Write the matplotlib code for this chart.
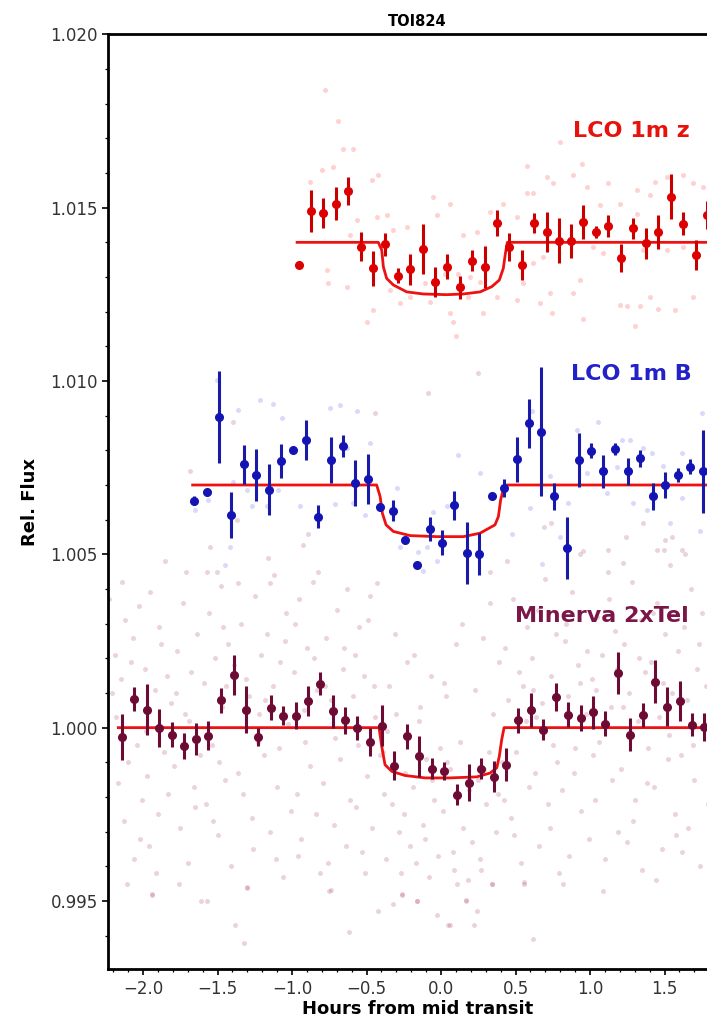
import matplotlib
matplotlib.use('Agg')
from matplotlib import pyplot as plt
from matplotlib.patches import Rectangle
from matplotlib.ticker import MultipleLocator, FormatStrFormatter

# ---- binned data (hours from mid transit, relative flux, error) ----
z_t = [-0.953, -0.872, -0.79, -0.705, -0.622, -0.537, -0.454, -0.374, -0.289, -0.206,
       -0.123, -0.04, 0.042, 0.128, 0.21, 0.293, 0.374, 0.459, 0.544, 0.626,
       0.709, 0.792, 0.872, 0.955, 1.04, 1.123, 1.206, 1.29, 1.374, 1.456,
       1.542, 1.626, 1.709, 1.783]
z_f = [1.01336, 1.0149, 1.01485, 1.01512, 1.01548, 1.01387, 1.01325, 1.01395, 1.01304, 1.01322,
       1.01382, 1.01286, 1.01329, 1.0127, 1.01347, 1.01328, 1.01456, 1.01387, 1.01334, 1.01456,
       1.0143, 1.01404, 1.01404, 1.01459, 1.0143, 1.01447, 1.01354, 1.0144, 1.01397, 1.0143,
       1.01531, 1.01454, 1.01363, 1.01478]
z_e = [0.0001, 0.0006, 0.00044, 0.00047, 0.0004, 0.00042, 0.0005, 0.00033, 0.00022, 0.00045,
       0.00072, 0.00043, 0.00036, 0.00033, 0.00031, 0.0006, 0.00038, 0.00041, 0.00043, 0.0003,
       0.00058, 0.00065, 0.00048, 0.0005, 0.00018, 0.00031, 0.00041, 0.00029, 0.00044, 0.00048,
       0.00065, 0.00034, 0.00044, 0.0004]

b_t = [-1.658, -1.568, -1.488, -1.407, -1.322, -1.24, -1.157, -1.074, -0.991, -0.908,
       -0.823, -0.74, -0.66, -0.575, -0.49, -0.409, -0.324, -0.24, -0.159, -0.074,
       0.009, 0.089, 0.172, 0.257, 0.34, 0.423, 0.508, 0.589, 0.671, 0.758,
       0.844, 0.924, 1.009, 1.09, 1.17, 1.255, 1.338, 1.421, 1.505, 1.589,
       1.671, 1.756]
b_f = [1.00655, 1.00681, 1.00897, 1.00614, 1.0076, 1.00729, 1.00686, 1.00769, 1.00801, 1.0083,
       1.00609, 1.00772, 1.00813, 1.00705, 1.00718, 1.00636, 1.00626, 1.0054, 1.0047, 1.00573,
       1.00534, 1.00641, 1.00503, 1.00501, 1.00667, 1.00691, 1.00774, 1.00878, 1.00854, 1.00667,
       1.00518, 1.00772, 1.00799, 1.00739, 1.00803, 1.00739, 1.00777, 1.00667, 1.007, 1.00729,
       1.00753, 1.00739]
b_e = [0.00014, 0.00005, 0.00133, 0.00067, 0.00056, 0.00075, 0.00074, 0.00049, 0.00005, 0.00058,
       0.00034, 0.00066, 0.00032, 0.00066, 0.00072, 0.00012, 0.00031, 0.00005, 0.00005, 0.00034,
       0.00037, 0.00042, 0.0009, 0.00061, 0.00005, 0.00026, 0.00064, 0.00071, 0.00187, 0.0004,
       0.0009, 0.00079, 0.00022, 0.00048, 0.00017, 0.0004, 0.00024, 0.0004, 0.00037, 0.00019,
       0.00022, 0.0012]

m_t = [-2.139, -2.058, -1.975, -1.893, -1.807, -1.725, -1.644, -1.562, -1.477, -1.391,
       -1.309, -1.226, -1.143, -1.058, -0.975, -0.895, -0.81, -0.727, -0.644, -0.562,
       -0.477, -0.394, -0.313, -0.228, -0.146, -0.062, 0.02, 0.105, 0.188, 0.271,
       0.356, 0.436, 0.519, 0.602, 0.687, 0.77, 0.854, 0.938, 1.018, 1.103,
       1.186, 1.268, 1.354, 1.436, 1.519, 1.604, 1.685, 1.765]
m_f = [0.99973, 1.00083, 1.00052, 0.99999, 0.9998, 0.99948, 0.99967, 0.99977, 1.00079, 1.00153,
       1.00052, 0.99973, 1.00057, 1.00035, 1.00035, 1.00076, 1.00127, 1.00047, 1.00021, 0.99999,
       0.99958, 1.00006, 0.9989, 0.99975, 0.99917, 0.99881, 0.99874, 0.99807, 0.99841, 0.99881,
       0.99858, 0.99893, 1.00021, 1.00052, 0.99994, 1.00088, 1.00037, 1.00028, 1.00044, 1.00011,
       1.00158, 0.9998, 1.00037, 1.00133, 1.00061, 1.00076, 1.00009, 1.00002]
m_e = [0.00066, 0.00034, 0.00073, 0.00056, 0.00037, 0.00038, 0.00046, 0.00042, 0.00036, 0.00058,
       0.00068, 0.00025, 0.00036, 0.00027, 0.00038, 0.00043, 0.00034, 0.00048, 0.00038, 0.00035,
       0.00041, 0.0006, 0.00042, 0.00036, 0.00058, 0.0003, 0.00026, 0.0003, 0.00053, 0.0003,
       0.00045, 0.00047, 0.00035, 0.00049, 0.0003, 0.0004, 0.00036, 0.00038, 0.00047, 0.00036,
       0.0006, 0.00047, 0.00035, 0.00061, 0.00056, 0.00058, 0.00032, 0.00041]

# ---- transit model curves ----
z_model_t = [-0.966, -0.421, -0.398, -0.387, -0.365, -0.32, -0.23, -0.119, 0.038, 0.15,
             0.262, 0.34, 0.391, 0.418, 0.432, 0.445, 1.95]
z_model_f = [1.014, 1.014, 1.01378, 1.01329, 1.01296, 1.01277, 1.01257, 1.01251, 1.01249, 1.01251,
             1.01257, 1.01272, 1.01291, 1.01325, 1.01368, 1.014, 1.014]
b_model_t = [-1.667, -0.432, -0.409, -0.394, -0.369, -0.32, -0.208, -0.029, 0.15, 0.262,
             0.362, 0.385, 0.40, 0.423, 0.441, 1.95]
b_model_f = [1.007, 1.007, 1.00667, 1.00619, 1.00585, 1.00566, 1.00554, 1.00551, 1.00551, 1.00561,
             1.00585, 1.00609, 1.00657, 1.00695, 1.007, 1.007]
m_model_t = [-2.166, -0.416, -0.398, -0.376, -0.331, -0.242, -0.107, 0.06, 0.24, 0.329,
             0.374, 0.391, 0.407, 0.423, 1.95]
m_model_f = [1.0, 1.0, 0.99946, 0.99893, 0.99874, 0.99862, 0.99855, 0.99855, 0.99858, 0.99869,
             0.99884, 0.99917, 0.99965, 1.0, 1.0]

# ---- unbinned points (faint) ----
z_raw_t = [-0.879, -0.801, -0.723, -0.42, -0.566, -0.61, -0.432, -0.365, -0.32, -0.23,
           -0.052, -0.029, 0.06, 0.149, 0.239, 0.328, 0.418, 0.507, 0.575, 0.62,
           0.709, 0.754, 0.888, 0.944, 0.977, 1.067, 1.123, 1.2, 1.312, 1.312,
           1.402, 1.436, 1.514, 1.626, 1.694, 1.761, -0.767, -0.756, -0.454, -0.342,
           -0.275, -0.208, -0.074, 0.06, 0.083, 0.183, 0.284, 0.373, 0.507, 0.552,
           0.664, 0.731, 0.742, 0.888, 0.933, 1.2, 1.246, 1.336, 1.402, 1.459,
           1.57, 1.694, 1.089, 1.357, 1.514, 1.626, 1.022, 0.687, 0.62, 0.194,
           0.261, 0.116, 0.027, -0.107, -0.63, -0.78, -0.69, -0.66, -0.59, -0.46,
           0.58, 0.80, -0.5, 0.1, 0.95, 1.3]
z_raw_f = [1.01574, 1.01608, 1.01618, 1.01594, 1.01464, 1.01421, 1.01474, 1.01478, 1.01435, 1.01445,
           1.01531, 1.01478, 1.01512, 1.01421, 1.0143, 1.01488, 1.01512, 1.01474, 1.01541, 1.01541,
           1.01589, 1.0157, 1.01594, 1.01627, 1.0156, 1.01507, 1.0157, 1.01512, 1.0155, 1.01483,
           1.01536, 1.01574, 1.01589, 1.01594, 1.0157, 1.0156, 1.0132, 1.01282, 1.01205, 1.01262,
           1.01224, 1.01243, 1.01229, 1.01195, 1.01171, 1.01243, 1.01195, 1.01243, 1.01233, 1.01282,
           1.01224, 1.01253, 1.01195, 1.01253, 1.01291, 1.01219, 1.01215, 1.01215, 1.01243, 1.01209,
           1.01205, 1.01243, 1.01368, 1.01378, 1.01378, 1.01387, 1.01387, 1.01358, 1.01339, 1.013,
           1.01286, 1.0131, 1.0131, 1.01282, 1.01272, 1.0184, 1.0175, 1.0167, 1.0167, 1.0158,
           1.0162, 1.0169, 1.0117, 1.0113, 1.0118, 1.0116]

b_raw_t = [-1.505, -1.36, -1.215, -1.125, -1.07, -0.745, -0.678, -0.566, -0.477, -1.394,
           -1.304, -1.27, -1.17, -1.091, -0.946, -0.712, -0.633, -0.589, -0.51, -0.298,
           -0.276, -0.153, -0.096, -0.052, -0.029, 0.038, 0.116, 0.262, -0.119, -1.416,
           -1.45, -1.561, -1.651, 0.609, 1.056, 0.91, 0.978, 1.112, 1.213, 1.268,
           1.179, 1.358, 1.414, 1.492, 1.615, 1.749, 1.738, 0.597, 0.474, 0.676,
           0.732, 0.855, 0.799, 1.291, 1.38, 1.537, 1.615]
b_raw_f = [1.01003, 1.00916, 1.00945, 1.00935, 1.00892, 1.00921, 1.00931, 1.00914, 1.0082, 1.0071,
           1.00686, 1.00638, 1.00638, 1.00686, 1.00638, 1.00645, 1.00806, 1.00647, 1.00614, 1.00691,
           1.00522, 1.00508, 1.00522, 1.00623, 1.0048, 1.00638, 1.00787, 1.00734, 1.00452, 1.00522,
           1.00469, 1.00657, 1.00629, 1.00912, 1.00883, 1.00859, 1.00734, 1.00676, 1.0083, 1.0083,
           1.00753, 1.00806, 1.00792, 1.00755, 1.00662, 1.00907, 1.00566, 1.00633, 1.0056, 1.00472,
           1.00726, 1.00647, 1.0055, 1.00647, 1.00628, 1.0059, 1.00792]

m_raw_t = [
    -2.19, -2.17, -2.15, -2.13, -2.12, -2.10, -2.08, -2.06, -2.05, -2.03, -2.01, -2.18, -2.11, -2.07, -2.04, -2.21, -2.14, -2.02,
    -1.99, -1.97, -1.95, -1.94, -1.92, -1.90, -1.88, -1.86, -1.85, -1.83, -1.81, -1.96, -1.89, -1.84, -1.98, -1.91,
    -1.79, -1.77, -1.75, -1.73, -1.72, -1.70, -1.68, -1.66, -1.64, -1.62, -1.61, -1.78, -1.71, -1.65, -1.76, -1.69, -1.57,
    -1.59, -1.58, -1.56, -1.54, -1.52, -1.50, -1.48, -1.47, -1.45, -1.43, -1.41, -1.55, -1.49, -1.44, -1.53, -1.46,
    -1.39, -1.38, -1.36, -1.34, -1.32, -1.30, -1.29, -1.27, -1.25, -1.23, -1.21, -1.37, -1.31, -1.26, -1.33, -1.22,
    -1.19, -1.17, -1.15, -1.13, -1.12, -1.10, -1.08, -1.06, -1.04, -1.03, -1.01, -1.18, -1.11, -1.05, -1.16, -1.09,
    -0.99, -0.97, -0.95, -0.94, -0.92, -0.90, -0.88, -0.86, -0.84, -0.83, -0.81, -0.98, -0.91, -0.85, -0.96, -0.89,
    -0.79, -0.77, -0.75, -0.74, -0.72, -0.70, -0.68, -0.66, -0.64, -0.63, -0.61, -0.62, -0.78, -0.71, -0.65, -0.76,
    -0.59, -0.57, -0.55, -0.53, -0.52, -0.50, -0.48, -0.46, -0.44, -0.42, -0.41, -0.58, -0.51, -0.45, -0.56, -0.49,
    -0.39, -0.37, -0.35, -0.33, -0.32, -0.30, -0.28, -0.26, -0.24, -0.23, -0.21, -0.38, -0.31, -0.27, -0.36, -0.25,
    -0.19, -0.17, -0.16, -0.14, -0.12, -0.10, -0.08, -0.07, -0.05, -0.03, -0.01, -0.18, -0.11, -0.06, -0.15, -0.02,
    0.01, 0.03, 0.05, 0.06, 0.08, 0.10, 0.11, 0.13, 0.15, 0.17, 0.19, 0.02, 0.09, 0.14, 0.04, 0.18, 0.22,
    0.21, 0.23, 0.25, 0.27, 0.28, 0.30, 0.32, 0.34, 0.35, 0.37, 0.39, 0.24, 0.29, 0.33, 0.26, 0.38,
    0.41, 0.43, 0.45, 0.47, 0.48, 0.50, 0.52, 0.54, 0.56, 0.58, 0.59, 0.44, 0.49, 0.55, 0.42, 0.57, 0.62,
    0.61, 0.63, 0.65, 0.66, 0.68, 0.70, 0.72, 0.74, 0.75, 0.77, 0.79, 0.64, 0.69, 0.73, 0.62, 0.78,
    0.81, 0.83, 0.85, 0.86, 0.88, 0.90, 0.92, 0.94, 0.95, 0.97, 0.99, 0.84, 0.89, 0.93, 0.82, 0.98,
    1.01, 1.03, 1.05, 1.06, 1.08, 1.10, 1.12, 1.14, 1.15, 1.17, 1.19, 1.04, 1.09, 1.13, 1.02, 1.18,
    1.21, 1.23, 1.25, 1.26, 1.28, 1.30, 1.32, 1.34, 1.35, 1.37, 1.39, 1.24, 1.29, 1.33, 1.22, 1.38,
    1.41, 1.43, 1.45, 1.46, 1.48, 1.50, 1.52, 1.54, 1.55, 1.57, 1.59, 1.44, 1.49, 1.53, 1.42, 1.58,
    1.61, 1.63, 1.65, 1.66, 1.68, 1.70, 1.72, 1.74, 1.75, 1.77, 1.79, 1.64, 1.69, 1.73, 1.62, 1.78,
    1.81, 1.83, 1.85, 1.86, 1.88, 1.90, 1.84, 1.89,
    -1.94, -1.30, -0.74, -0.26, -0.16, 0.06, 0.17, 0.34, 0.56, -2.23,
    -1.685, -1.394, -0.443, -0.085, 0.25, -0.924, -1.573, -1.505, -0.823, -1.148, -1.36, -0.432, 0.329,
    0.737, 1.358, 1.494, 1.12, 1.22, 1.45, 1.55, 1.62, 0.93, 1.50]
m_raw_f = [
    1.0021, 0.9984, 1.0014, 0.9973, 1.0031, 0.9990, 1.0019, 0.9962, 1.0008, 1.0035, 0.9979, 1.0003, 0.9955, 1.0026, 0.9995, 1.0010, 1.0042, 0.9968,
    1.0017, 0.9986, 1.0039, 0.9952, 1.0011, 0.9975, 1.0024, 0.9993, 1.0048, 0.9981, 1.0007, 0.9966, 1.0029, 1.0015, 0.9999, 0.9958,
    0.9989, 1.0022, 0.9971, 1.0036, 1.0004, 0.9961, 1.0016, 0.9983, 1.0027, 0.9992, 0.9950, 1.0010, 1.0045, 0.9977, 0.9955, 1.0002, 0.9950,
    1.0013, 0.9978, 1.0033, 0.9995, 1.0020, 0.9969, 1.0041, 1.0006, 0.9985, 1.0024, 0.9960, 1.0052, 0.9990, 1.0012, 0.9973, 1.0029,
    1.0018, 0.9943, 0.9987, 1.0030, 0.9938, 0.9954, 1.0009, 0.9974, 1.0038, 0.9996, 1.0021, 1.0060, 1.0014, 0.9965, 0.9981, 1.0004,
    0.9992, 1.0027, 0.9970, 1.0012, 1.0044, 0.9983, 1.0019, 0.9957, 1.0033, 1.0001, 0.9976, 1.0008, 0.9962, 1.0025, 1.0049, 0.9994,
    1.0016, 0.9981, 1.0037, 0.9968, 1.0005, 1.0023, 0.9989, 1.0042, 0.9975, 1.0011, 0.9958, 1.0030, 0.9996, 1.0020, 0.9963, 1.0056,
    0.9984, 1.0026, 0.9953, 1.0008, 0.9972, 1.0034, 0.9991, 1.0017, 0.9966, 1.0040, 0.9979, 0.9941, 1.0012, 0.9997, 1.0023, 0.9961,
    1.0009, 0.9977, 1.0029, 0.9964, 1.0015, 0.9986, 1.0038, 0.9971, 1.0003, 0.9947, 0.9992, 1.0021, 0.9958, 1.0012, 0.9995, 1.0031,
    0.9993, 0.9962, 1.0012, 0.9978, 0.9949, 1.0004, 0.9970, 0.9952, 0.9987, 1.0019, 0.9966, 0.9981, 1.0027, 0.9958, 0.9999, 0.9975,
    0.9983, 0.9961, 0.9950, 1.0006, 0.9972, 0.9991, 0.9957, 1.0015, 0.9979, 0.9946, 0.9994, 1.0021, 0.9968, 0.9985, 1.0002, 0.9963,
    0.9976, 1.0009, 0.9943, 0.9988, 0.9964, 1.0024, 0.9955, 0.9996, 0.9971, 0.9950, 0.9982, 1.0013, 0.9959, 1.0030, 0.9990, 0.9956, 0.9943,
    0.9967, 1.0011, 0.9985, 0.9959, 1.0026, 0.9978, 0.9993, 0.9955, 1.0004, 0.9970, 1.0019, 0.9947, 0.9988, 1.0036, 0.9962, 0.9981,
    0.9990, 1.0023, 1.0008, 0.9974, 1.0037, 0.9993, 1.0016, 0.9961, 0.9955, 1.0029, 0.9983, 1.0048, 0.9969, 1.0012, 0.9979, 1.0002, 0.9939,
    1.0020, 0.9987, 1.0034, 0.9966, 1.0007, 1.0043, 0.9978, 1.0015, 0.9995, 1.0027, 0.9958, 1.0003, 1.0058, 0.9971, 1.0011, 0.9990,
    0.9982, 1.0025, 1.0009, 0.9963, 1.0039, 0.9994, 1.0018, 0.9976, 1.0051, 1.0004, 0.9968, 1.0030, 0.9987, 1.0013, 0.9955, 1.0022,
    1.0014, 0.9979, 1.0032, 0.9996, 1.0021, 0.9962, 1.0045, 1.0006, 0.9985, 1.0028, 0.9970, 1.0011, 0.9953, 1.0037, 0.9992, 1.0017,
    0.9988, 1.0024, 0.9967, 1.0010, 1.0042, 0.9979, 1.0002, 1.0031, 0.9959, 1.0016, 0.9994, 1.0055, 0.9973, 1.0020, 1.0006, 0.9984,
    1.0019, 0.9983, 1.0036, 1.0003, 0.9965, 1.0027, 0.9991, 1.0047, 1.0010, 0.9975, 1.0022, 0.9956, 1.0013, 0.9998, 1.0033, 0.9969,
    0.9992, 1.0029, 1.0008, 0.9971, 1.0040, 0.9985, 1.0017, 0.9960, 1.0033, 1.0001, 0.9978, 1.0050, 0.9995, 1.0024, 0.9964, 1.0012,
    1.0015, 0.9982, 1.0030, 0.9997, 1.0021, 0.9968, 1.0006, 1.0038,
    0.99516, 0.99536, 0.99533, 0.99516, 0.9950, 0.99432, 0.99502, 0.9955, 0.99554, 1.0037,
    1.00739, 1.00883, 1.00907, 1.00964, 1.01022, 1.00527, 1.0045, 1.0045, 1.0045, 1.00417, 1.00417, 1.00417, 1.0045,
    1.0059, 1.0059, 1.00513, 1.00513, 1.00475, 1.00513, 1.0055, 1.00513, 1.0050, 1.0054]

# ---- labels ----
title = 'TOI824'
xlabel = 'Hours from mid transit'
ylabel = 'Rel. Flux'
inst_names = ['LCO 1m z', 'LCO 1m B', 'Minerva 2xTel']
inst_label_pos = [(0.886, 1.01722), (0.870, 1.01021), (0.497, 1.00323)]
inst_colors = ['#e8120c', '#2222c8', '#7b1748']


fig = plt.figure(figsize=(7.07, 10.22), dpi=100)
# the original plot is cut off at the right edge: the axes end exactly there
ax = fig.add_axes([0.1532, 0.0516, 1 - 0.1532, 0.9148])
# full-canvas frame with no colour so any tight cropping keeps the whole figure
fig.add_artist(Rectangle((0, 0), 1, 1, transform=fig.transFigure,
                         fill=False, edgecolor='none', linewidth=0))

# faint unbinned points
ax.plot(m_raw_t, m_raw_f, 'o', ms=3.6, mew=0, color='#a8386a', alpha=0.22, zorder=1)
ax.plot(b_raw_t, b_raw_f, 'o', ms=3.6, mew=0, color='#3030e0', alpha=0.18, zorder=1)
ax.plot(z_raw_t, z_raw_f, 'o', ms=3.6, mew=0, color='#ff2020', alpha=0.2, zorder=1)

# model fits
for mt, mf in [(z_model_t, z_model_f), (b_model_t, b_model_f), (m_model_t, m_model_f)]:
    ax.plot(mt, mf, '-', color='#ee1111', lw=2.0, zorder=2)

# binned points
ax.errorbar(z_t, z_f, yerr=z_e, fmt='o', ms=5.5, color='#dd0000', ecolor='#c80000',
            elinewidth=2.2, capsize=0, zorder=3)
ax.errorbar(b_t, b_f, yerr=b_e, fmt='o', ms=5.5, color='#1414b4', ecolor='#1a1aa8',
            elinewidth=2.2, capsize=0, zorder=3)
ax.errorbar(m_t, m_f, yerr=m_e, fmt='o', ms=5.5, color='#6e0b35', ecolor='#6e0b35',
            elinewidth=2.2, capsize=0, zorder=3)

for name, (lx, ly), col in zip(inst_names, inst_label_pos, inst_colors):
    ax.text(lx, ly, name, color=col, fontsize=16, fontweight='bold', va='center', ha='left')

ax.set_xlim(-2.233, 1.785)
ax.set_ylim(0.99303, 1.020)
ax.xaxis.set_major_locator(MultipleLocator(0.5))
ax.xaxis.set_minor_locator(MultipleLocator(0.1))
ax.yaxis.set_major_locator(MultipleLocator(0.005))
ax.yaxis.set_minor_locator(MultipleLocator(0.001))
ax.yaxis.set_major_formatter(FormatStrFormatter('%.3f'))
ax.tick_params(which='major', length=4, width=1.2, labelsize=12, labelcolor='#333333')
ax.tick_params(which='minor', length=2.5, width=0.9)
for sp in ax.spines.values():
    sp.set_linewidth(2)
ax.spines['right'].set_visible(False)

# title and x label sit at the centre of the full (uncut) axes
ax.set_title(title, fontsize=10.5, fontweight='bold', pad=6, x=0.5165)
ax.set_xlabel(xlabel, fontsize=13, fontweight='bold', labelpad=2, x=0.5165)
ax.set_ylabel(ylabel, fontsize=13, fontweight='bold', labelpad=8)

fig.savefig('out.png', dpi=100, pad_inches=0)
